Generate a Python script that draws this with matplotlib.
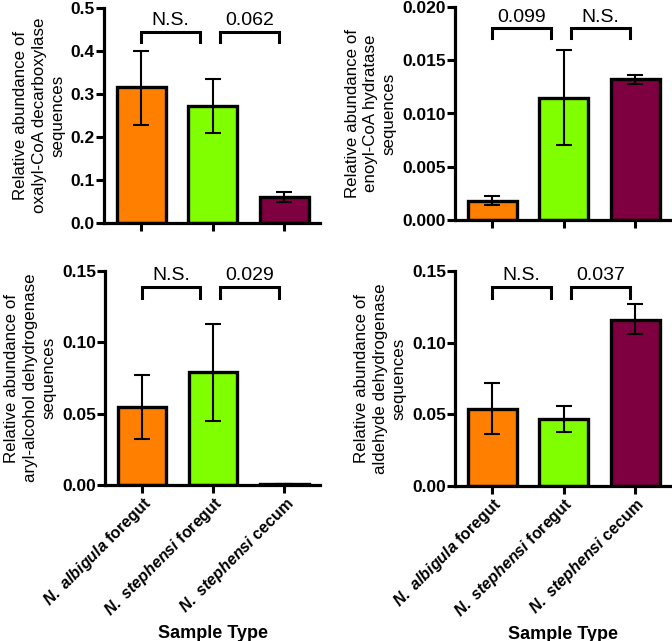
import matplotlib
matplotlib.use("Agg")
import matplotlib.pyplot as plt
import numpy as np

plt.rcParams['font.family'] = ['Liberation Sans', 'DejaVu Sans']
plt.rcParams['mathtext.fontset'] = 'custom'
plt.rcParams['mathtext.rm'] = 'Liberation Sans:bold'
plt.rcParams['mathtext.bf'] = 'Liberation Sans:bold'
plt.rcParams['mathtext.it'] = 'Liberation Sans:italic:bold'
plt.rcParams['mathtext.bfit'] = 'Liberation Sans:italic:bold'

categories = ["N. albigula foregut", "N. stephensi foregut", "N. stephensi cecum"]
tick_labels = [r"$\mathit{N.\ albigula}$ foregut",
               r"$\mathit{N.\ stephensi}$ foregut",
               r"$\mathit{N.\ stephensi}$ cecum"]
colors = ["#FF8000", "#80FF00", "#7F0040"]

oxalyl_mean = [0.316, 0.273, 0.060]
oxalyl_low = [0.228, 0.210, 0.048]
oxalyl_high = [0.401, 0.335, 0.071]

enoyl_mean = [0.0018, 0.0115, 0.0132]
enoyl_low = [0.0014, 0.0070, 0.0128]
enoyl_high = [0.0023, 0.0160, 0.0136]

aryl_mean = [0.055, 0.079, 0.001]
aryl_low = [0.032, 0.045, 0.001]
aryl_high = [0.077, 0.113, 0.001]

ald_mean = [0.054, 0.047, 0.116]
ald_low = [0.036, 0.038, 0.106]
ald_high = [0.072, 0.056, 0.127]

panels = [
    dict(mean=oxalyl_mean, low=oxalyl_low, high=oxalyl_high,
         ylabel="Relative abundance of\noxalyl-CoA decarboxylase\nsequences",
         ylim=0.5, ticks=[0.0, 0.1, 0.2, 0.3, 0.4, 0.5], fmt="{:.1f}",
         sig=["N.S.", "0.062"], bar_y=0.445, leg_y=0.420),
    dict(mean=enoyl_mean, low=enoyl_low, high=enoyl_high,
         ylabel="Relative abundance of\nenoyl-CoA hydratase\nsequences",
         ylim=0.020, ticks=[0.0, 0.005, 0.010, 0.015, 0.020], fmt="{:.3f}",
         sig=["0.099", "N.S."], bar_y=0.0180, leg_y=0.0171),
    dict(mean=aryl_mean, low=aryl_low, high=aryl_high,
         ylabel="Relative abundance of\naryl-alcohol dehydrogenase\nsequences",
         ylim=0.15, ticks=[0.0, 0.05, 0.10, 0.15], fmt="{:.2f}",
         sig=["N.S.", "0.029"], bar_y=0.139, leg_y=0.131),
    dict(mean=ald_mean, low=ald_low, high=ald_high,
         ylabel="Relative abundance of\naldehyde dehydrogenase\nsequences",
         ylim=0.15, ticks=[0.0, 0.05, 0.10, 0.15], fmt="{:.2f}",
         sig=["N.S.", "0.037"], bar_y=0.139, leg_y=0.131),
]

W, H = 672, 641
fig = plt.figure(figsize=(W / 100, H / 100), dpi=100)

boxes = [(104, 8, 320, 223), (455, 7, 671, 220), (105, 271, 320, 485), (455, 271, 671, 486)]

x = np.arange(3)
for i, (p, b) in enumerate(zip(panels, boxes)):
    l, t, r, bt = b
    ax = fig.add_axes([l / W, 1 - bt / H, (r - l) / W, (bt - t) / H])
    mean = np.array(p["mean"])
    low = np.array(p["low"])
    high = np.array(p["high"])
    ax.bar(x, mean, width=0.68, color=colors, edgecolor="black", linewidth=2.4, zorder=2)
    ax.errorbar(x, mean, yerr=[mean - low, high - mean], fmt="none", ecolor="black",
                elinewidth=1.5, capsize=5.5, capthick=1.5, zorder=3)
    ax.set_xlim(-0.52, 2.5)
    ax.set_ylim(0, p["ylim"])
    ax.set_yticks(p["ticks"])
    ax.set_yticklabels([p["fmt"].format(v) for v in p["ticks"]], fontweight="bold", fontsize=12.5)
    ax.set_xticks(x)
    for s in ["top", "right"]:
        ax.spines[s].set_visible(False)
    for s in ["left", "bottom"]:
        ax.spines[s].set_linewidth(2.3)
    ax.tick_params(axis="both", width=2.2, length=5.5, direction="out", pad=1)
    ax.set_ylabel(p["ylabel"], fontsize=12.2, labelpad=4, linespacing=1.3)
    if i >= 2:
        ax.set_xticklabels(tick_labels, rotation=45, ha="right", rotation_mode="anchor",
                           fontweight="bold", fontsize=11.5)
        ax.set_xlabel("Sample Type", fontweight="bold", fontsize=13, labelpad=3)
    else:
        ax.set_xticklabels([])
    # significance brackets
    segs = [(0.0, 0.82), (1.1, 1.92)]
    for (x0, x1), lab in zip(segs, p["sig"]):
        ax.plot([x0, x0, x1, x1], [p["leg_y"], p["bar_y"], p["bar_y"], p["leg_y"]],
                color="black", lw=2.2, clip_on=False, solid_joinstyle="miter")
        ax.text((x0 + x1) / 2, p["bar_y"] + p["ylim"] * 0.012, lab, ha="center", va="bottom",
                fontsize=14)

fig.savefig("out.png", dpi=100)
